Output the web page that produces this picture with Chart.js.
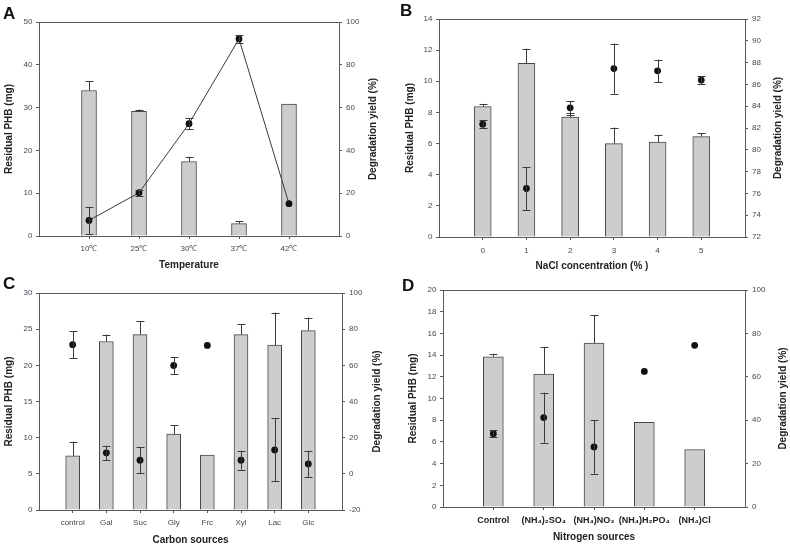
<!DOCTYPE html>
<html>
<head>
<meta charset="utf-8">
<script src="https://cdn.jsdelivr.net/npm/chart.js@4.4.0/dist/chart.umd.min.js"></script>
<style>
  body { margin: 0; background: #fff; width: 790px; height: 553px; position: relative; overflow: hidden; font-family: "Liberation Sans", Arial, sans-serif; }
  canvas { position: absolute; }
  .tag { position: absolute; font-weight: bold; font-size: 17px; line-height: 17px; color: #111; }
</style>
</head>
<body>
<canvas id="chartA" width="395" height="276" style="left:0;top:0"></canvas>
<canvas id="chartB" width="395" height="276" style="left:395px;top:0"></canvas>
<canvas id="chartC" width="395" height="277" style="left:0;top:276px"></canvas>
<canvas id="chartD" width="395" height="277" style="left:395px;top:276px"></canvas>
<div class="tag" style="left:3px;top:5px">A</div>
<div class="tag" style="left:400px;top:2px">B</div>
<div class="tag" style="left:3px;top:275px">C</div>
<div class="tag" style="left:402px;top:277px">D</div>
<script>
// A - temperature
var tempLabels = ['10℃', '25℃', '30℃', '37℃', '42℃'];
var tempPHB = [34.0, 29.1, 17.4, 2.9, 30.8];
var tempPHBErr = [2.2, 0.45, 1.1, 0.5, 0];
var tempYield = [7.3, 20.2, 52.5, 92.1, 15.1];
var tempYieldErr = [6.3, 1.3, 2.5, 1.9, 0];

// B - NaCl
var naclLabels = ['0', '1', '2', '3', '4', '5'];
var naclPHB = [8.38, 11.15, 7.7, 6.0, 6.09, 6.45];
var naclPHBErr = [0.17, 0.94, 0.25, 1.03, 0.47, 0.2];
var naclYield = [82.35, 76.45, 83.85, 87.45, 87.25, 86.4];
var naclYieldErr = [0.35, 1.96, 0.63, 2.3, 1.03, 0.37];

// C - carbon sources
var carbonLabels = ['control', 'Gal', 'Suc', 'Gly', 'Frc', 'Xyl', 'Lac', 'Glc'];
var carbonPHB = [7.5, 23.3, 24.25, 10.5, 7.6, 24.25, 22.8, 24.8];
var carbonPHBErr = [1.95, 0.95, 1.85, 1.25, 0, 1.4, 4.5, 1.8];
var carbonYield = [71.4, 11.6, 7.5, 59.9, 71.0, 7.5, 13.2, 5.5];
var carbonYieldErr = [7.5, 3.9, 7.1, 4.8, 0, 5.2, 17.4, 7.2];

// D - nitrogen sources
var nitroLabels = ['Control', '(NH₄)₂SO₄', '(NH₄)NO₃', '(NH₄)H₂PO₄', '(NH₄)Cl'];
var nitroPHB = [13.85, 12.25, 15.1, 7.8, 5.3];
var nitroPHBErr = [0.27, 2.5, 2.55, 0, 0];
var nitroYield = [33.8, 41.2, 27.7, 62.5, 74.5];
var nitroYieldErr = [1.5, 11.5, 12.3, 0, 0];

var FONT = '"Liberation Sans", Arial, sans-serif';
var AXIS = '#5a5a5a';

// error bars: bars get upper half only, points get both sides
var errorBars = {
  id: 'errorBars',
  afterDatasetsDraw: function(chart) {
    var ctx = chart.ctx;
    chart.data.datasets.forEach(function(ds, di) {
      if (!ds.errors) return;
      var meta = chart.getDatasetMeta(di);
      var scale = chart.scales[ds.yAxisID];
      ctx.save();
      ctx.strokeStyle = '#3a3a3a';
      ctx.lineWidth = 1;
      meta.data.forEach(function(el, i) {
        var e = ds.errors[i];
        if (!e) return;
        var v = ds.data[i].y;
        var yTop = scale.getPixelForValue(v + e);
        var yBot = ds.type === 'line' ? scale.getPixelForValue(v - e) : el.y;
        var x = Math.round(el.x) + 0.5;
        ctx.beginPath();
        ctx.moveTo(x, yTop); ctx.lineTo(x, yBot);
        ctx.moveTo(x - 4, Math.round(yTop) + 0.5); ctx.lineTo(x + 4, Math.round(yTop) + 0.5);
        if (ds.type === 'line') {
          ctx.moveTo(x - 4, Math.round(yBot) + 0.5); ctx.lineTo(x + 4, Math.round(yBot) + 0.5);
        }
        ctx.stroke();
      });
      ctx.restore();
    });
  }
};

// top edge of the plot frame
var frame = {
  id: 'frame',
  beforeDatasetsDraw: function(chart) {
    var a = chart.chartArea, ctx = chart.ctx;
    ctx.save();
    ctx.strokeStyle = AXIS;
    ctx.lineWidth = 1;
    ctx.beginPath();
    ctx.moveTo(a.left, Math.round(a.top) + 0.5);
    ctx.lineTo(a.right, Math.round(a.top) + 0.5);
    ctx.stroke();
    ctx.restore();
  }
};

// right axis title, reading bottom to top like the left one
var rightTitle = {
  id: 'rightTitle',
  afterDraw: function(chart, args, opts) {
    var a = chart.chartArea, ctx = chart.ctx;
    ctx.save();
    ctx.translate(opts.x, (a.top + a.bottom) / 2);
    ctx.rotate(-Math.PI / 2);
    ctx.font = 'bold 10px ' + FONT;
    ctx.fillStyle = '#222';
    ctx.textAlign = 'center';
    ctx.textBaseline = 'middle';
    ctx.fillText(opts.text, 0, 0);
    ctx.restore();
  }
};

function panel(id, o) {
  var n = o.labels.length;
  var pts = function(arr) { return arr.map(function(v, i) { return {x: i + 1, y: v}; }); };
  var tickFont = {size: 8, family: FONT};
  new Chart(document.getElementById(id), {
    type: 'bar',
    data: {
      datasets: [{
        type: 'bar',
        data: pts(o.phb),
        errors: o.phbErr,
        yAxisID: 'y',
        backgroundColor: '#cdcdcd',
        borderColor: '#484848',
        borderWidth: 1,
        barThickness: o.barW,
        order: 1
      }, {
        type: 'line',
        data: pts(o.yld),
        errors: o.yldErr,
        yAxisID: 'y2',
        showLine: o.line,
        borderColor: '#3a3a3a',
        borderWidth: 1,
        pointRadius: 3.4,
        pointBackgroundColor: '#111',
        pointBorderColor: '#111',
        pointBorderWidth: 0,
        order: 0
      }]
    },
    options: {
      responsive: false,
      animation: false,
      layout: {padding: {top: o.area[1], left: 0, right: 0, bottom: 0}},
      plugins: {
        legend: {display: false},
        tooltip: {enabled: false},
        rightTitle: {text: 'Degradation yield (%)', x: o.rtX}
      },
      scales: {
        x: {
          type: 'linear', min: 0, max: n + 1, offset: false,
          afterFit: function(s) { s.height = o.h - o.area[3]; },
          grid: {
            offset: false, drawOnChartArea: false, drawTicks: true, tickLength: 3,
            color: function(c) { return c.tick && c.tick.value >= 1 && c.tick.value <= n ? AXIS : 'rgba(0,0,0,0)'; }
          },
          border: {display: true, color: AXIS},
          ticks: {
            stepSize: 1, autoSkip: false, maxRotation: 0, padding: o.xPad,
            color: o.xBold ? '#222' : '#464650',
            font: o.xBold ? {size: 9, weight: 'bold', family: FONT} : tickFont,
            callback: function(v) { return o.labels[v - 1] || ''; }
          },
          title: {
            display: true, text: o.xTitle, color: '#222',
            font: {size: 10, weight: 'bold', family: FONT},
            padding: {top: 0, bottom: o.xTitlePad}
          }
        },
        y: {
          position: 'left', min: o.yMin, max: o.yMax,
          afterFit: function(s) { s.width = o.area[0]; },
          grid: {drawOnChartArea: false, drawTicks: true, tickLength: 3, color: AXIS},
          border: {display: true, color: AXIS},
          ticks: {stepSize: o.yStep, padding: 3.5, color: '#464650', font: tickFont},
          title: {
            display: true, text: 'Residual PHB (mg)', color: '#222',
            font: {size: 10, weight: 'bold', family: FONT},
            padding: {top: o.ltPad, bottom: 0}
          }
        },
        y2: {
          position: 'right', min: o.y2Min, max: o.y2Max,
          afterFit: function(s) { s.width = o.w - o.area[2]; },
          grid: {drawOnChartArea: false, drawTicks: true, tickLength: 3, color: AXIS},
          border: {display: true, color: AXIS},
          ticks: {stepSize: o.y2Step, padding: 4, color: '#464650', font: tickFont}
        }
      }
    },
    plugins: [frame, errorBars, rightTitle]
  });
}

panel('chartA', {
  w: 395, h: 276, area: [39, 22, 339, 236], barW: 15, line: true,
  labels: tempLabels, phb: tempPHB, phbErr: tempPHBErr, yld: tempYield, yldErr: tempYieldErr,
  yMin: 0, yMax: 50, yStep: 10, y2Min: 0, y2Max: 100, y2Step: 20,
  xTitle: 'Temperature', xPad: 5, xTitlePad: 5, ltPad: 3.5, rtX: 373
});
panel('chartB', {
  w: 395, h: 276, area: [44, 19, 350, 237], barW: 17, line: false,
  labels: naclLabels, phb: naclPHB, phbErr: naclPHBErr, yld: naclYield, yldErr: naclYieldErr,
  yMin: 0, yMax: 14, yStep: 2, y2Min: 72, y2Max: 92, y2Step: 2,
  xTitle: 'NaCl concentration (% )', xPad: 6, xTitlePad: 3.3, ltPad: 9, rtX: 383
});
panel('chartC', {
  w: 395, h: 277, area: [39, 17, 342, 234], barW: 14, line: false,
  labels: carbonLabels, phb: carbonPHB, phbErr: carbonPHBErr, yld: carbonYield, yldErr: carbonYieldErr,
  yMin: 0, yMax: 30, yStep: 5, y2Min: -20, y2Max: 100, y2Step: 20,
  xTitle: 'Carbon sources', xPad: 5, xTitlePad: 7, ltPad: 3.3, rtX: 377
});
panel('chartD', {
  w: 395, h: 277, area: [48, 14, 350, 231], barW: 20, line: false, xBold: true,
  labels: nitroLabels, phb: nitroPHB, phbErr: nitroPHBErr, yld: nitroYield, yldErr: nitroYieldErr,
  yMin: 0, yMax: 20, yStep: 2, y2Min: 0, y2Max: 100, y2Step: 20,
  xTitle: 'Nitrogen sources', xPad: 5.5, xTitlePad: 10, ltPad: 12, rtX: 388
});
</script>
</body>
</html>
